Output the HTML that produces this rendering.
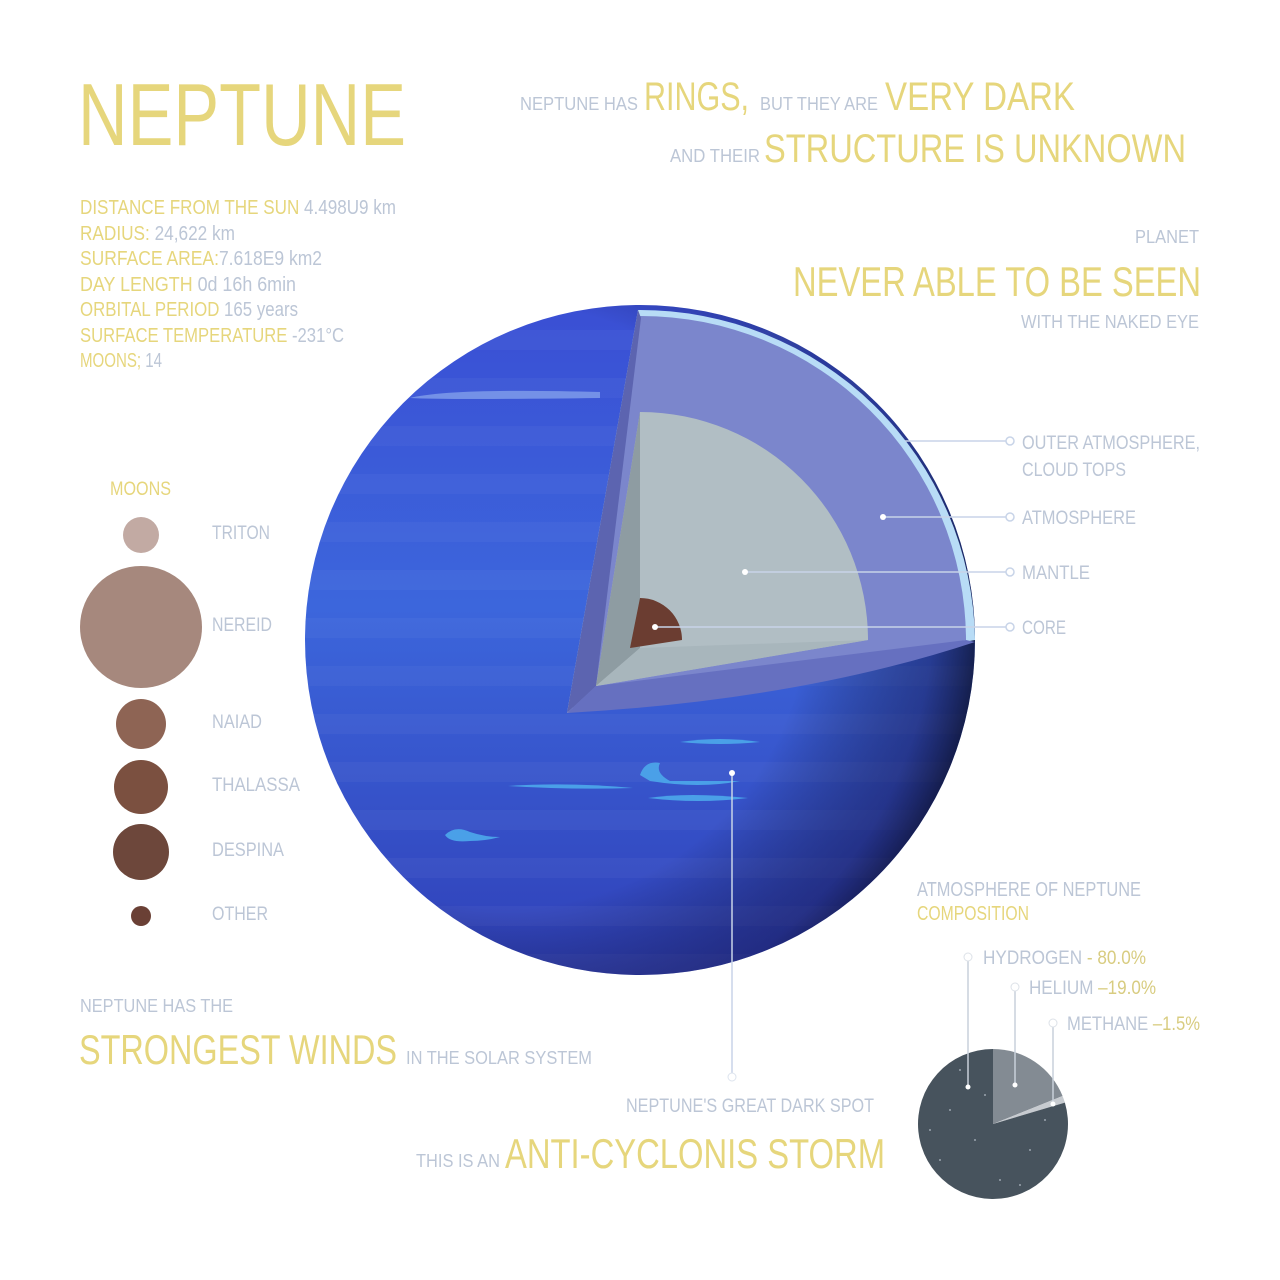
<!DOCTYPE html>
<html><head><meta charset="utf-8"><style>
html,body{margin:0;padding:0;background:#fff;}
svg{display:block;font-family:"Liberation Sans",sans-serif;}
.g{fill:#e6d67c;}
.b{fill:#bcc6d6;}
</style></head><body>
<svg id="chart" width="1280" height="1280" viewBox="0 0 1280 1280">
<defs>
<linearGradient id="planetGrad" x1="0" y1="0" x2="0" y2="1">
<stop offset="0" stop-color="#3a4fd4"/><stop offset="0.45" stop-color="#3c66dc"/><stop offset="1" stop-color="#3040b8"/>
</linearGradient>
<radialGradient id="shade" cx="0.3" cy="0.45" r="0.75">
<stop offset="0.6" stop-color="#000" stop-opacity="0"/><stop offset="0.85" stop-color="#101040" stop-opacity="0.45"/><stop offset="1" stop-color="#000" stop-opacity="0.9"/>
</radialGradient>
<clipPath id="planetClip"><circle cx="640" cy="640" r="335"/></clipPath>
</defs>

<text class="g" x="78" y="145" font-size="88" textLength="328" lengthAdjust="spacingAndGlyphs">NEPTUNE</text>

<g>
<text class="b" x="520" y="110" font-size="18" textLength="118" lengthAdjust="spacingAndGlyphs">NEPTUNE HAS</text>
<text class="g" x="644" y="110" font-size="40" textLength="105" lengthAdjust="spacingAndGlyphs">RINGS,</text>
<text class="b" x="760" y="110" font-size="18" textLength="118" lengthAdjust="spacingAndGlyphs">BUT THEY ARE</text>
<text class="g" x="885" y="110" font-size="40" textLength="190" lengthAdjust="spacingAndGlyphs">VERY DARK</text>
<text class="b" x="670" y="162" font-size="18" textLength="90" lengthAdjust="spacingAndGlyphs">AND THEIR</text>
<text class="g" x="764" y="162" font-size="40" textLength="422" lengthAdjust="spacingAndGlyphs">STRUCTURE IS UNKNOWN</text>
</g>

<g font-size="20" lengthAdjust="spacingAndGlyphs">
<text x="80" y="214" textLength="316" lengthAdjust="spacingAndGlyphs"><tspan class="g">DISTANCE FROM THE SUN</tspan><tspan class="b"> 4.498U9 km</tspan></text>
<text x="80" y="240" textLength="155" lengthAdjust="spacingAndGlyphs"><tspan class="g">RADIUS:</tspan><tspan class="b"> 24,622 km</tspan></text>
<text x="80" y="265" textLength="242" lengthAdjust="spacingAndGlyphs"><tspan class="g">SURFACE AREA:</tspan><tspan class="b">7.618E9 km2</tspan></text>
<text x="80" y="291" textLength="216" lengthAdjust="spacingAndGlyphs"><tspan class="g">DAY LENGTH</tspan><tspan class="b"> 0d 16h 6min</tspan></text>
<text x="80" y="316" textLength="218" lengthAdjust="spacingAndGlyphs"><tspan class="g">ORBITAL PERIOD</tspan><tspan class="b"> 165 years</tspan></text>
<text x="80" y="342" textLength="264" lengthAdjust="spacingAndGlyphs"><tspan class="g">SURFACE TEMPERATURE</tspan><tspan class="b"> -231°C</tspan></text>
<text x="80" y="367" textLength="82" lengthAdjust="spacingAndGlyphs"><tspan class="g">MOONS;</tspan><tspan class="b"> 14</tspan></text>
</g>

<g>
<text class="b" x="1199" y="243" font-size="18" text-anchor="end" textLength="64" lengthAdjust="spacingAndGlyphs">PLANET</text>
<text class="g" x="1201" y="296" font-size="42" text-anchor="end" textLength="408" lengthAdjust="spacingAndGlyphs">NEVER ABLE TO BE SEEN</text>
<text class="b" x="1199" y="328" font-size="18" text-anchor="end" textLength="178" lengthAdjust="spacingAndGlyphs">WITH THE NAKED EYE</text>
</g>

<g>
<circle cx="640" cy="640" r="335" fill="url(#planetGrad)"/>
<g clip-path="url(#planetClip)" id="bands"></g>
<circle cx="640" cy="640" r="335" fill="url(#shade)"/>
<path d="M410,398 Q450,388 600,392 L600,398 Q450,400 410,398Z" fill="#8aa8ee" opacity="0.7"/>
<path d="M445,835 q10,-10 25,-3 q15,5 30,5 q-15,4 -30,4 q-20,2 -25,-6Z" fill="#4aa0e8"/>
<path d="M640,775 q5,-15 20,-12 q-5,10 10,18 q40,0 70,0 q-40,8 -90,0Z" fill="#4aa0e8"/>
<path d="M680,742 q40,-6 80,0 q-40,4 -80,0Z" fill="#4aa0e8"/>
<path d="M508,786 q60,-4 125,2 q-60,2 -125,-2Z" fill="#4aa0e8"/>
<path d="M648,798 q40,-6 100,0 q-50,6 -100,0Z" fill="#4aa0e8"/>
<path d="M567,713 L638,310 A335,335 0 0 1 975,640 Z" fill="#b8dcf6"/>
<path d="M570,708 L640,316 A325,325 0 0 1 966,640 Z" fill="#7b86cc"/>
<path d="M567,713 L638,310 L641,318 L596,686 Z" fill="#5c64b0"/>
<path d="M567,713 L596,686 L966,640 L975,642 Q800,700 567,713Z" fill="#6670c0"/>
<path d="M596,686 L640,412 A228,228 0 0 1 868,640 Z" fill="#b1bec4"/>
<path d="M596,686 L640,412 L640,648 Z" fill="#8e9ca2"/>
<path d="M596,686 L640,648 L868,640 Z" fill="#a8b6bc"/>
<path d="M630,648 L640,598 A42,42 0 0 1 682,640 Z" fill="#6b3d31"/>
</g>

<g stroke="#c8d4e8" stroke-width="1.5" fill="none">
<line x1="905" y1="441" x2="1006" y2="441"/><circle cx="1010" cy="441" r="4" fill="#fff"/>
<line x1="883" y1="517" x2="1006" y2="517"/><circle cx="1010" cy="517" r="4" fill="#fff"/>
<line x1="745" y1="572" x2="1006" y2="572"/><circle cx="1010" cy="572" r="4" fill="#fff"/>
<line x1="655" y1="627" x2="1006" y2="627"/><circle cx="1010" cy="627" r="4" fill="#fff"/>
</g>
<circle cx="883" cy="517" r="3" fill="#fff"/><circle cx="745" cy="572" r="3" fill="#fff"/><circle cx="655" cy="627" r="3" fill="#fff"/>
<g class="b" font-size="19">
<text x="1022" y="449" textLength="178" lengthAdjust="spacingAndGlyphs">OUTER ATMOSPHERE,</text>
<text x="1022" y="476" textLength="104" lengthAdjust="spacingAndGlyphs">CLOUD TOPS</text>
<text x="1022" y="524" textLength="114" lengthAdjust="spacingAndGlyphs">ATMOSPHERE</text>
<text x="1022" y="579" textLength="68" lengthAdjust="spacingAndGlyphs">MANTLE</text>
<text x="1022" y="634" textLength="44" lengthAdjust="spacingAndGlyphs">CORE</text>
</g>

<g>
<line x1="732" y1="773" x2="732" y2="1073" stroke="#c8d4e8" stroke-width="1.5"/>
<circle cx="732" cy="773" r="3" fill="#fff"/>
<circle cx="732" cy="1077" r="4" fill="#fff" stroke="#dde4ee"/>
</g>
<g>
<text class="b" x="626" y="1112" font-size="19" textLength="248" lengthAdjust="spacingAndGlyphs">NEPTUNE'S GREAT DARK SPOT</text>
<text class="b" x="416" y="1167" font-size="18" textLength="84" lengthAdjust="spacingAndGlyphs">THIS IS AN</text>
<text class="g" x="505" y="1168" font-size="42" textLength="380" lengthAdjust="spacingAndGlyphs">ANTI-CYCLONIS STORM</text>
</g>

<g>
<text class="b" x="80" y="1012" font-size="18" textLength="153" lengthAdjust="spacingAndGlyphs">NEPTUNE HAS THE</text>
<text class="g" x="79" y="1064" font-size="42" textLength="318" lengthAdjust="spacingAndGlyphs">STRONGEST WINDS</text>
<text class="b" x="406" y="1064" font-size="18" textLength="186" lengthAdjust="spacingAndGlyphs">IN THE SOLAR SYSTEM</text>
</g>

<text class="g" x="110" y="495" font-size="19" textLength="61" lengthAdjust="spacingAndGlyphs">MOONS</text>
<g id="moons"></g>

<g>
<text class="b" x="917" y="896" font-size="20" textLength="224" lengthAdjust="spacingAndGlyphs">ATMOSPHERE OF NEPTUNE</text>
<text class="g" x="917" y="920" font-size="20" textLength="112" lengthAdjust="spacingAndGlyphs">COMPOSITION</text>
</g>
<g id="pie"></g>
</svg>
<script>
const NS="http://www.w3.org/2000/svg";
function mk(tag,attrs,parent){const e=document.createElementNS(NS,tag);for(const k in attrs)e.setAttribute(k,attrs[k]);parent.appendChild(e);return e;}

const bands=document.getElementById('bands');
for(let i=0;i<14;i++){
  const r=mk('rect',{x:300,y:330+i*48,width:700,height:20,fill:'#ffffff',opacity:0.035},bands);
  
  
}

const moonNames=["TRITON","NEREID","NAIAD","THALASSA","DESPINA","OTHER"];
const moonSizes=[18,61,25,27,28,10];
const moonColors=["#c2aaa3","#a6887d","#8e6454","#7b5040","#6d473b","#6a4035"];
const moonRowY=[535,627,724,787,852,916];
const moonLabelW=[58,60,50,88,72,56];
const moonsG=document.getElementById('moons');
moonSizes.forEach((r,i)=>{
  const y=moonRowY[i];
  const c=mk('circle',{cx:141,cy:y,r:r,fill:moonColors[i]},moonsG);
  
  
  const t=mk('text',{x:212,y:y+4,'font-size':19,fill:'#bcc6d6',textLength:moonLabelW[i],lengthAdjust:'spacingAndGlyphs'},moonsG);
  t.textContent=moonNames[i];
  
  
});

const gasNames=["HELIUM","METHANE","HYDROGEN"];
const gasValues=[19.0,1.5,80.0];
const gasColors=["#838b93","#c7cbd0","#47535d"];
const gasLabels=["HELIUM –19.0%","METHANE –1.5%","HYDROGEN - 80.0%"];
const pie=document.getElementById('pie');
const cx=993,cy=1124,R=75;
const total=gasValues.reduce((a,b)=>a+b,0);
function pt(a,r){return [cx+r*Math.sin(a),cy-r*Math.cos(a)];}
let a0=0;
gasValues.forEach((v,i)=>{
  const a1=a0+v/total*2*Math.PI;
  const p0=pt(a0,R),p1=pt(a1,R);
  const large=(a1-a0)>Math.PI?1:0;
  const p=mk('path',{d:`M${cx},${cy}L${p0[0]},${p0[1]}A${R},${R} 0 ${large} 1 ${p1[0]},${p1[1]}Z`,fill:gasColors[i]},pie);
  
  
  a0=a1;
});
const stars=[[960,1070],[975,1140],[1000,1180],[940,1160],[1030,1150],[950,1110],[1020,1185],[985,1095],[1045,1120],[930,1130]];
stars.forEach(s=>{const c=mk('circle',{cx:s[0],cy:s[1],r:1,fill:'#9aa4ae'},pie);});
const leadX=[1015,1053,968];
const leadTop=[987,1023,957];
const leadBot=[1085,1104,1087];
const labelX=[1029,1067,983];
const labelW=[127,133,163];
gasNames.forEach((n,i)=>{
  const l=mk('line',{x1:leadX[i],y1:leadTop[i]+4,x2:leadX[i],y2:leadBot[i],stroke:'#c8d0da','stroke-width':1.5},pie);
  
  
  const c=mk('circle',{cx:leadX[i],cy:leadTop[i],r:4,fill:'#fff',stroke:'#dde2e8'},pie);
  
  
  const d=mk('circle',{cx:leadX[i],cy:leadBot[i],r:2.5,fill:'#fff'},pie);
  
  
  const parts=gasLabels[i].split(/ (?=[-–])/);
  const t=mk('text',{x:labelX[i],y:leadTop[i]+7,'font-size':19,textLength:labelW[i],lengthAdjust:'spacingAndGlyphs'},pie);
  
  
  const t1=mk('tspan',{fill:'#bcc6d6'},t);t1.textContent=parts[0]+' ';
  const t2=mk('tspan',{fill:'#d8cc80'},t);t2.textContent=parts[1]||'';
});
</script>
</body></html>
